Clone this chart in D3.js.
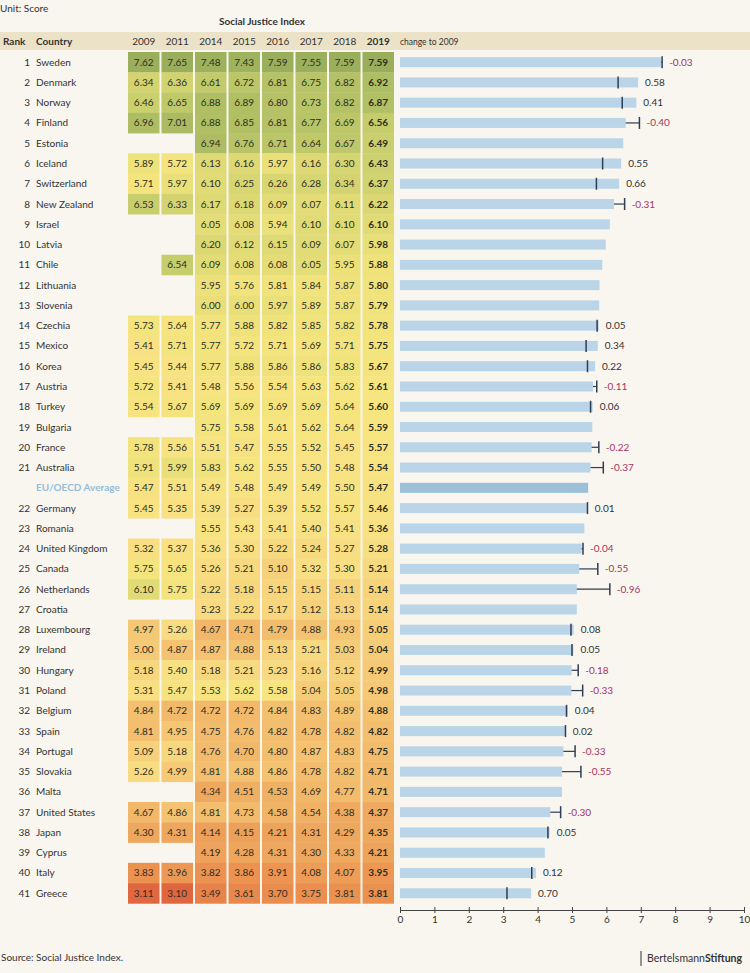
<!DOCTYPE html>
<html><head><meta charset="utf-8">
<script src="https://cdn.jsdelivr.net/npm/d3@7"></script>
<style>
html,body{margin:0;padding:0;background:#f9f5ef;}
svg{display:block;font-family:Lato,"Open Sans",sans-serif;}
</style></head>
<body><svg id="c" width="750" height="973"></svg>
<script>
const ranks = [1,2,3,4,5,6,7,8,9,10,11,12,13,14,15,16,17,18,19,20,21,null,22,23,24,25,26,27,28,29,30,31,32,33,34,35,36,37,38,39,40,41];
const countries = ["Sweden","Denmark","Norway","Finland","Estonia","Iceland","Switzerland","New Zealand","Israel","Latvia","Chile","Lithuania","Slovenia","Czechia","Mexico","Korea","Austria","Turkey","Bulgaria","France","Australia","EU/OECD Average","Germany","Romania","United Kingdom","Canada","Netherlands","Croatia","Luxembourg","Ireland","Hungary","Poland","Belgium","Spain","Portugal","Slovakia","Malta","United States","Japan","Cyprus","Italy","Greece"];
const years = ["2009","2011","2014","2015","2016","2017","2018","2019"];
const v2009 = [7.62,6.34,6.46,6.96,null,5.89,5.71,6.53,null,null,null,null,null,5.73,5.41,5.45,5.72,5.54,null,5.78,5.91,5.47,5.45,null,5.32,5.75,6.10,null,4.97,5.00,5.18,5.31,4.84,4.81,5.09,5.26,null,4.67,4.30,null,3.83,3.11];
const v2011 = [7.65,6.36,6.65,7.01,null,5.72,5.97,6.33,null,null,6.54,null,null,5.64,5.71,5.44,5.41,5.67,null,5.56,5.99,5.51,5.35,null,5.37,5.65,5.75,null,5.26,4.87,5.40,5.47,4.72,4.95,5.18,4.99,null,4.86,4.31,null,3.96,3.10];
const v2014 = [7.48,6.61,6.88,6.88,6.94,6.13,6.10,6.17,6.05,6.20,6.09,5.95,6.00,5.77,5.77,5.77,5.48,5.69,5.75,5.51,5.83,5.49,5.39,5.55,5.36,5.26,5.22,5.23,4.67,4.87,5.18,5.53,4.72,4.75,4.76,4.81,4.34,4.81,4.14,4.19,3.82,3.49];
const v2015 = [7.43,6.72,6.89,6.85,6.76,6.16,6.25,6.18,6.08,6.12,6.08,5.76,6.00,5.88,5.72,5.88,5.56,5.69,5.58,5.47,5.62,5.48,5.27,5.43,5.30,5.21,5.18,5.22,4.71,4.88,5.21,5.62,4.72,4.76,4.70,4.88,4.51,4.73,4.15,4.28,3.86,3.61];
const v2016 = [7.59,6.81,6.80,6.81,6.71,5.97,6.26,6.09,5.94,6.15,6.08,5.81,5.97,5.82,5.71,5.86,5.54,5.69,5.61,5.55,5.55,5.49,5.39,5.41,5.22,5.10,5.15,5.17,4.79,5.13,5.23,5.58,4.84,4.82,4.80,4.86,4.53,4.58,4.21,4.31,3.91,3.70];
const v2017 = [7.55,6.75,6.73,6.77,6.64,6.16,6.28,6.07,6.10,6.09,6.05,5.84,5.89,5.85,5.69,5.86,5.63,5.69,5.62,5.52,5.50,5.49,5.52,5.40,5.24,5.32,5.15,5.12,4.88,5.21,5.16,5.04,4.83,4.78,4.87,4.78,4.69,4.54,4.31,4.30,4.08,3.75];
const v2018 = [7.59,6.82,6.82,6.69,6.67,6.30,6.34,6.11,6.10,6.07,5.95,5.87,5.87,5.82,5.71,5.83,5.62,5.64,5.64,5.45,5.48,5.50,5.57,5.41,5.27,5.30,5.11,5.13,4.93,5.03,5.12,5.05,4.89,4.82,4.83,4.82,4.77,4.38,4.29,4.33,4.07,3.81];
const v2019 = [7.59,6.92,6.87,6.56,6.49,6.43,6.37,6.22,6.10,5.98,5.88,5.80,5.79,5.78,5.75,5.67,5.61,5.60,5.59,5.57,5.54,5.47,5.46,5.36,5.28,5.21,5.14,5.14,5.05,5.04,4.99,4.98,4.88,4.82,4.75,4.71,4.71,4.37,4.35,4.21,3.95,3.81];
const changeLabels = ["-0.03","0.58","0.41","-0.40",null,"0.55","0.66","-0.31",null,null,null,null,null,"0.05","0.34","0.22","-0.11","0.06",null,"-0.22","-0.37",null,"0.01",null,"-0.04","-0.55","-0.96",null,"0.08","0.05","-0.18","-0.33","0.04","0.02","-0.33","-0.55",null,"-0.30","0.05",null,"0.12","0.70"];
const axisTicks = [0,1,2,3,4,5,6,7,8,9,10];

const cols = [v2009,v2011,v2014,v2015,v2016,v2017,v2018,v2019];
const avgIndex = countries.indexOf("EU/OECD Average");
const svg = d3.select("#c");

const y = d3.scaleBand().domain(d3.range(countries.length)).range([52, 903.4]).padding(0);
const xc = d3.scaleBand().domain(years).range([128, 394]).paddingInner(0.06).paddingOuter(0);
const x = d3.scaleLinear().domain([0,10]).range([400,744]);
const color = d3.scaleLinear()
  .domain([3.1,3.5,3.9,4.3,4.7,5.0,5.3,5.6,5.9,6.2,6.5,6.9,7.6])
  .range(["#e0663f","#e8834b","#ec9552","#eea75e","#f2b86a","#f5ca76","#f8df84","#f7e57f","#eee27b","#dbd874","#c9cf6e","#afbe64","#9aae5c"])
  .interpolate(d3.interpolateLab).clamp(true);

// titles
svg.append("text").attr("x",0).attr("y",12).attr("font-size",10).attr("fill","#333").text("Unit: Score");
svg.append("text").attr("x",262).attr("y",25).attr("text-anchor","middle").attr("font-size",10).attr("font-weight","bold").attr("fill","#333").text("Social Justice Index");

// header band
svg.append("rect").attr("x",0).attr("y",32).attr("width",750).attr("height",18).attr("fill","#ece2c7");
const hy = 45;
svg.append("text").attr("x",3).attr("y",hy).attr("font-size",10).attr("font-weight","bold").attr("fill","#333").text("Rank");
svg.append("text").attr("x",36).attr("y",hy).attr("font-size",10).attr("font-weight","bold").attr("fill","#333").text("Country");
svg.selectAll("text.yr").data(years).join("text").attr("class","yr")
  .attr("x",d=>xc(d)+xc.bandwidth()/2).attr("y",hy).attr("text-anchor","middle")
  .attr("font-size",10).attr("font-weight",d=>d==="2019"?"bold":"normal").attr("fill","#333").text(d=>d);
svg.append("text").attr("x",400).attr("y",hy).attr("font-size",8.5).attr("fill","#333").text("change to 2009");

// rows
const rows = svg.append("g").selectAll("g").data(countries).join("g")
  .attr("transform",(d,i)=>`translate(0,${y(i)})`);
const h = y.bandwidth();
rows.append("text").attr("x",30).attr("y",h/2).attr("dy","0.35em").attr("text-anchor","end")
  .attr("font-size",10).attr("fill","#333").text((d,i)=>ranks[i]==null?"":ranks[i]);
rows.append("text").attr("x",36).attr("y",h/2).attr("dy","0.35em")
  .attr("font-size",10).attr("font-weight",(d,i)=>i===avgIndex?"bold":"normal")
  .attr("fill",(d,i)=>i===avgIndex?"#93bfd9":"#333").text(d=>d);

// heat cells
years.forEach((yr,ci)=>{
  const arr = cols[ci];
  rows.each(function(d,i){
    const v = arr[i];
    if(v==null) return;
    const g = d3.select(this);
    g.append("rect").attr("x",xc(yr)).attr("y",0).attr("width",xc.bandwidth()).attr("height",h+0.3)
      .attr("fill",color(v));
    g.append("text").attr("x",xc(yr)+xc.bandwidth()/2).attr("y",h/2).attr("dy","0.35em")
      .attr("text-anchor","middle").attr("font-size",10)
      .attr("font-weight",yr==="2019"?"bold":"normal").attr("fill","#2e2e22").text(v.toFixed(2));
  });
});

// bars
const bh = 10;
rows.append("rect").attr("x",x(0)).attr("y",h/2-bh/2).attr("width",(d,i)=>x(v2019[i])-x(0)).attr("height",bh)
  .attr("fill",(d,i)=>i===avgIndex?"#9dc0d9":"#bad5e7");
rows.each(function(d,i){
  const lab = changeLabels[i];
  if(i===avgIndex || v2009[i]==null) return;
  const g = d3.select(this);
  const e = x(v2019[i]), m = x(v2009[i]);
  if(m>e) g.append("line").attr("x1",e).attr("x2",m).attr("y1",h/2).attr("y2",h/2).attr("stroke","#2f3d55").attr("stroke-width",1.2);
  g.append("line").attr("x1",m).attr("x2",m).attr("y1",h/2-6).attr("y2",h/2+6).attr("stroke","#2f3d55").attr("stroke-width",1.5);
  if(lab!=null){
    g.append("text").attr("x",Math.max(e,m)+7).attr("y",h/2).attr("dy","0.35em").attr("font-size",10)
      .attr("fill",lab.startsWith("-")?"#a3365f":"#333").text(lab);
  }
});

// axis
const ax = svg.append("g").attr("transform","translate(0,910)")
  .call(d3.axisBottom(x).tickValues(axisTicks).tickFormat(d3.format("d")).tickSize(3).tickSizeOuter(0));
ax.select(".domain").attr("stroke","#444");
ax.selectAll(".tick line").attr("y1",-3).attr("y2",3).attr("stroke","#444");
ax.selectAll(".tick text").attr("font-family","Lato").attr("font-size",10).attr("fill","#333").attr("y",6);

// footer
svg.append("text").attr("x",1).attr("y",961).attr("font-size",10).attr("fill","#333").text("Source: Social Justice Index.");
svg.append("line").attr("x1",641).attr("x2",641).attr("y1",951).attr("y2",966).attr("stroke","#333").attr("stroke-width",1);
const bt = svg.append("text").attr("x",647).attr("y",962).attr("font-size",10.5).attr("fill","#333");
bt.append("tspan").text("Bertelsmann");
bt.append("tspan").attr("font-weight","bold").text("Stiftung");
</script></body></html>
